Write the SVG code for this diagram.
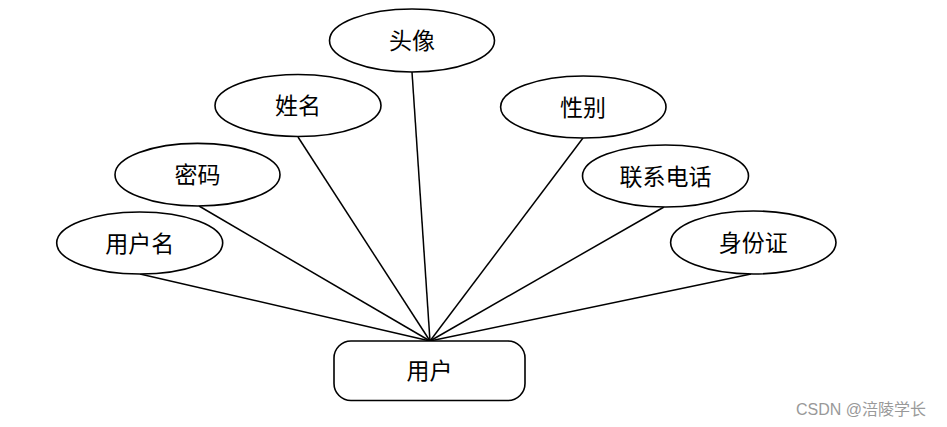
<svg xmlns="http://www.w3.org/2000/svg" width="947" height="427" viewBox="0 0 947 427">
<style>
.n{fill:#fff;stroke:#000;stroke-width:1.6}
.t{font-family:"Noto Sans CJK SC","Noto Sans",sans-serif;font-size:23px;fill:#000;text-anchor:middle}
.c line{stroke:#000;stroke-width:1.5}
.w{font-family:"Liberation Sans","Noto Sans CJK SC",sans-serif;font-size:16px;fill:#999}
</style>
<rect width="947" height="427" fill="#fff"/>
<g class="c" id="connectors">
<line x1="412" y1="72" x2="430" y2="341"/>
<line x1="298" y1="137" x2="430" y2="341"/>
<line x1="583" y1="138" x2="430" y2="341"/>
<line x1="199" y1="206" x2="430" y2="341"/>
<line x1="664" y1="207" x2="430" y2="341"/>
<line x1="140" y1="274" x2="430" y2="341"/>
<line x1="751" y1="274" x2="430" y2="341"/>
</g>
<g id="touxiang"><ellipse class="n" cx="412" cy="40.5" rx="82.5" ry="31.5"/><text class="t" x="412" y="49">头像</text></g>
<g id="xingming"><ellipse class="n" cx="298" cy="105.5" rx="83" ry="31"/><text class="t" x="298" y="114">姓名</text></g>
<g id="xingbie"><ellipse class="n" cx="583.3" cy="107" rx="82.7" ry="31"/><text class="t" x="583" y="115.5">性别</text></g>
<g id="mima"><ellipse class="n" cx="197.5" cy="174.7" rx="82.5" ry="31.3"/><text class="t" x="197.5" y="183">密码</text></g>
<g id="lianxidianhua"><ellipse class="n" cx="665.5" cy="176" rx="83" ry="31"/><text class="t" x="665.5" y="184.5">联系电话</text></g>
<g id="yonghuming"><ellipse class="n" cx="139.7" cy="243" rx="83" ry="31"/><text class="t" x="139.7" y="251.5">用户名</text></g>
<g id="shenfenzheng"><ellipse class="n" cx="753.3" cy="242.5" rx="82.7" ry="31.5"/><text class="t" x="753.3" y="251">身份证</text></g>
<g id="yonghu"><rect class="n" x="334" y="341" width="191" height="59.5" rx="17"/><text class="t" x="429.5" y="379">用户</text></g>
<text class="w" x="796" y="415">CSDN @涪陵学长</text>
</svg>
